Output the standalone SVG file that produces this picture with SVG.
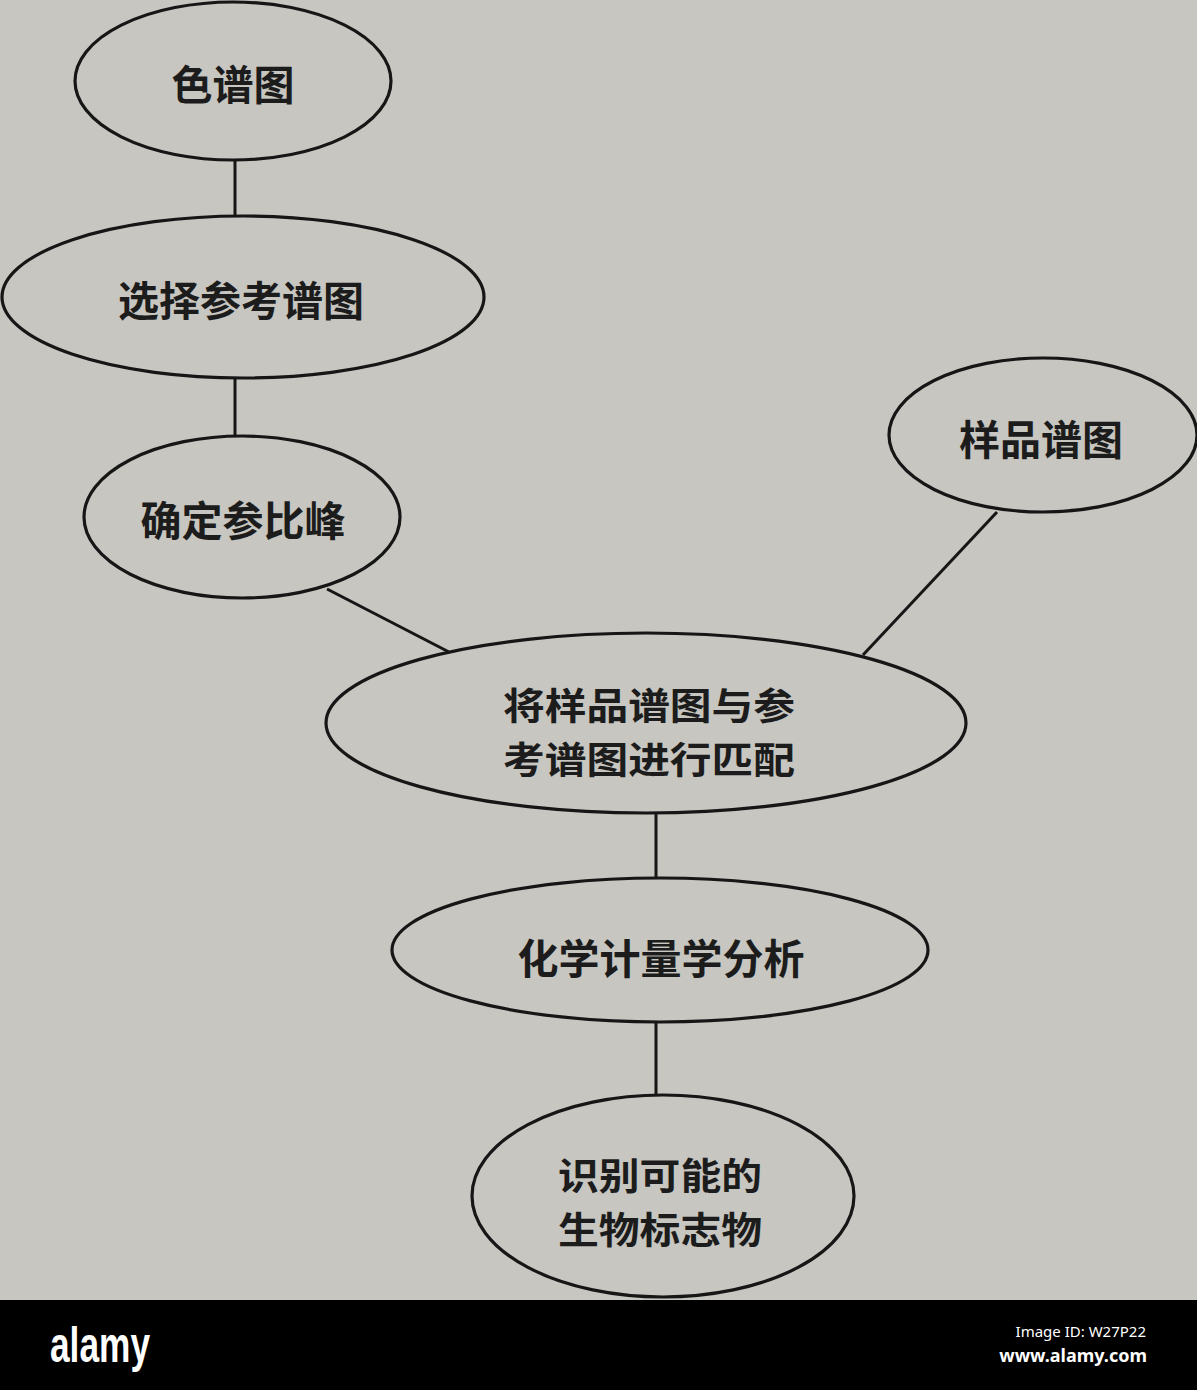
<svg xmlns="http://www.w3.org/2000/svg" width="1197" height="1390" viewBox="0 0 1197 1390">
  <style>
    .node ellipse { fill: none; stroke: #161616; stroke-width: 3.2; }
    .node text { font-family: "Noto Sans CJK SC", "Noto Sans", sans-serif; font-size: 41px; font-weight: 700; fill: #1c1c1c; text-anchor: middle; dominant-baseline: central; }
    .node text.two { font-size: 37px; }
    #connectors line { stroke: #161616; stroke-width: 3; }
  </style>
  <rect x="0" y="0" width="1197" height="1300" fill="#c7c6c0"/>

  <g id="connectors">
    <line x1="235" y1="161" x2="235" y2="217"/>
    <line x1="235" y1="378" x2="235" y2="436"/>
    <line x1="327" y1="589" x2="449" y2="652"/>
    <line x1="997" y1="512" x2="863" y2="655"/>
    <line x1="656" y1="813" x2="656" y2="878"/>
    <line x1="656" y1="1022" x2="656" y2="1095"/>
  </g>

  <g id="node-sepu" class="node">
    <ellipse cx="233" cy="81" rx="158" ry="79"/>
    <text x="233" y="82">色谱图</text>
  </g>
  <g id="node-xuanze" class="node">
    <ellipse cx="243" cy="297" rx="241" ry="81"/>
    <text x="241" y="298">选择参考谱图</text>
  </g>
  <g id="node-queding" class="node">
    <ellipse cx="242" cy="517" rx="158" ry="81"/>
    <text x="243" y="518">确定参比峰</text>
  </g>
  <g id="node-yangpin" class="node">
    <ellipse cx="1043" cy="435" rx="154" ry="77"/>
    <text x="1041" y="437">样品谱图</text>
  </g>
  <g id="node-pipei" class="node">
    <ellipse cx="646" cy="723" rx="320" ry="90"/>
    <text class="two" x="649" y="704" textLength="292" lengthAdjust="spacingAndGlyphs">将样品谱图与参</text>
    <text class="two" x="649" y="758" textLength="292" lengthAdjust="spacingAndGlyphs">考谱图进行匹配</text>
  </g>
  <g id="node-huaxue" class="node">
    <ellipse cx="660" cy="950" rx="268" ry="72"/>
    <text x="661" y="956">化学计量学分析</text>
  </g>
  <g id="node-shibie" class="node">
    <ellipse cx="663" cy="1196" rx="191" ry="101"/>
    <text class="two" x="660" y="1174" textLength="204" lengthAdjust="spacingAndGlyphs">识别可能的</text>
    <text class="two" x="660" y="1228" textLength="204" lengthAdjust="spacingAndGlyphs">生物标志物</text>
  </g>

  <rect x="0" y="1300" width="1197" height="90" fill="#000000"/>
  <text x="50" y="1362" font-family="Liberation Sans, sans-serif" font-weight="700" font-size="50" fill="#ffffff" textLength="100" lengthAdjust="spacingAndGlyphs">alamy</text>
  <text x="1146" y="1337" font-family="Noto Sans, sans-serif" font-size="15" fill="#ffffff" text-anchor="end">Image ID: W27P22</text>
  <text x="1147" y="1362" font-family="Noto Sans, sans-serif" font-weight="700" font-size="18" fill="#ffffff" text-anchor="end">www.alamy.com</text>
</svg>
